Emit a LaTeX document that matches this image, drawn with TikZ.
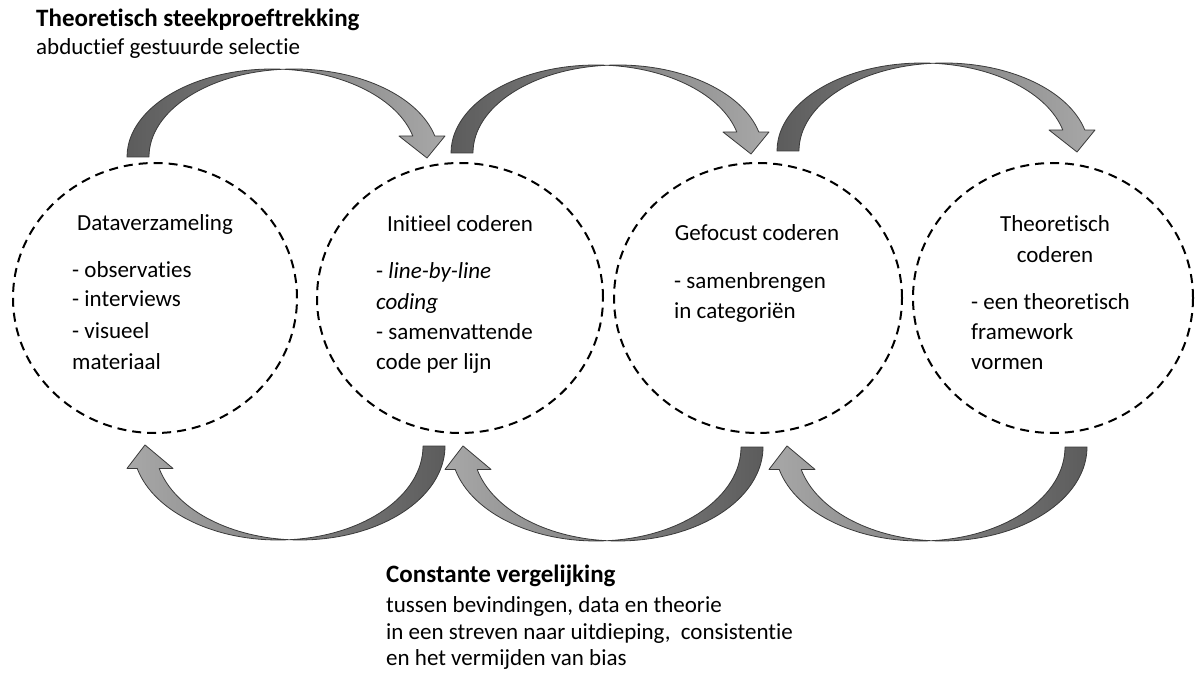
\documentclass[tikz,border=0pt]{standalone}
\usepackage{fontspec}
\setmainfont[Ligatures=NoCommon]{Carlito}
\usetikzlibrary{shapes.geometric}

% Curved block arrow: two congruent half-ellipses offset by the shaft width,
% meeting at the apex, with a triangular head on the far end.
\newcommand{\bandarrow}[1]{%
  \draw[band,#1] (0,0)
    arc[start angle=180, end angle=85.65, x radius=145, y radius=88]
    arc[start angle=94.35, end angle=13.8, x radius=145, y radius=88]
    -- (318,21) -- (300,-1) -- (272,21) -- (285.8,21)
    arc[start angle=13.8, end angle=85.65, x radius=145, y radius=88]
    arc[start angle=94.35, end angle=180, x radius=145, y radius=88]
    -- cycle;}

\definecolor{banddark}{HTML}{5C5C5C}
\definecolor{bandlight}{HTML}{A8A8A8}
\definecolor{bandline}{HTML}{3A3A3A}

\begin{document}
\begin{tikzpicture}[x=1pt, y=1pt,
  phase/.style={draw=black, ellipse, line width=2pt, dash pattern=on 9pt off 6pt, inner sep=0pt},
  txt/.style={inner sep=0pt, anchor=base west, font=\fontsize{23}{27}\selectfont},
  ctxt/.style={txt, anchor=base},
  btxt/.style={txt, font=\fontsize{25}{29}\selectfont\bfseries},
  band/.style={draw=bandline, line width=0.8pt, line join=round},
]
\useasboundingbox (0,0) rectangle (1195,-679);

% phases
\node[phase, minimum width=284pt, minimum height=270pt] (c1) at (155,-298) {};
\node[phase, minimum width=286pt, minimum height=270pt] (c2) at (460,-298) {};
\node[phase, minimum width=288pt, minimum height=270pt] (c3) at (758,-298) {};
\node[phase, minimum width=280pt, minimum height=270pt] (c4) at (1053,-298) {};

% sampling arrows (top)
\bandarrow{shift={(127,-157)}, left color=banddark, right color=bandlight}
\bandarrow{shift={(451,-153)}, left color=banddark, right color=bandlight}
\bandarrow{shift={(777,-151)}, left color=banddark, right color=bandlight}

% comparison arrows (bottom)
\bandarrow{shift={(445,-446)}, xscale=-1, yscale=-1.068, left color=bandlight, right color=banddark}
\bandarrow{shift={(763,-447)}, xscale=-1, yscale=-1.068, left color=bandlight, right color=banddark}
\bandarrow{shift={(1087,-447)}, xscale=-1, yscale=-1.068, left color=bandlight, right color=banddark}

% headings
\node[btxt] (ttl) at (36,-27) {Theoretisch steekproeftrekking};
\node[txt] (sub) at (36,-55) {abductief gestuurde selectie};

% phase 1
\node[ctxt] (h1) at (155,-231) {Dataverzameling};
\node[txt] (p1a) at (72,-278) {- observaties};
\node[txt] (p1b) at (72,-307) {- interviews};
\node[txt] (p1c) at (72,-338) {- visueel};
\node[txt] (p1d) at (72,-369) {materiaal};

% phase 2
\node[ctxt] (h2) at (460,-232) {Initieel coderen};
\node[txt] (p2a) at (376,-279) {- \textit{line-by-line}};
\node[txt] (p2b) at (376,-309) {\textit{coding}};
\node[txt] (p2c) at (376,-339) {- samenvattende};
\node[txt] (p2d) at (376,-370) {code per lijn};

% phase 3
\node[ctxt] (h3) at (757,-241) {Gefocust coderen};
\node[txt] (p3a) at (674,-289) {- samenbrengen};
\node[txt] (p3b) at (674,-319) {in categoriën};

% phase 4
\node[ctxt] (h4a) at (1055,-232) {Theoretisch};
\node[ctxt] (h4b) at (1055,-263) {coderen};
\node[txt] (p4a) at (971,-309) {- een theoretisch};
\node[txt] (p4b) at (971,-339) {framework};
\node[txt] (p4c) at (971,-370) {vormen};

% comparison caption
\node[btxt] (cmp) at (386,-582) {Constante vergelijking};
\node[txt] (cmpa) at (386,-612) {tussen bevindingen, data en theorie};
\node[txt] (cmpb) at (386,-639) {in een streven naar uitdieping,\ \ consistentie};
\node[txt] (cmpc) at (386,-665) {en het vermijden van bias};
\end{tikzpicture}
\end{document}
